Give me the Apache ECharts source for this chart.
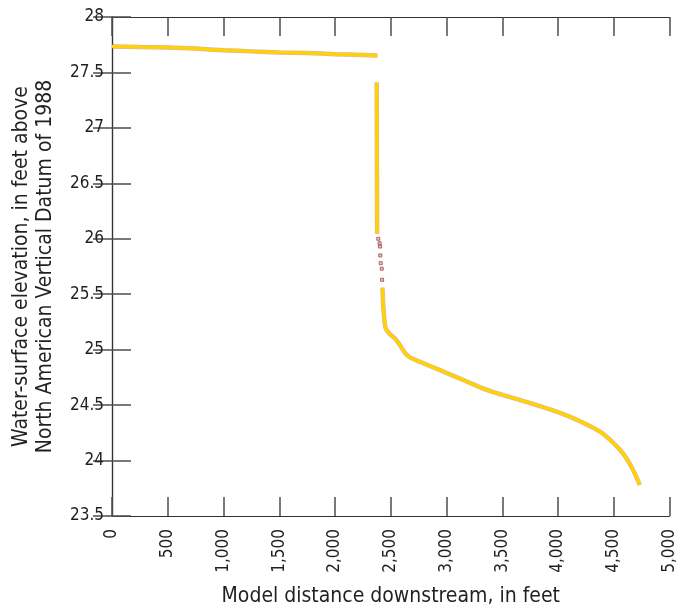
<!DOCTYPE html>
<html>
<head>
<meta charset="utf-8">
<script src="https://cdn.jsdelivr.net/npm/echarts@6/dist/echarts.min.js"></script>
<style>
  html, body { margin: 0; padding: 0; background: #fff; }
  #chart { width: 683px; height: 612px; }
</style>
</head>
<body>
<div id="chart"></div>
<script>
// water-surface profile (feet)
const upperX = [0, 250, 500, 750, 1000, 1250, 1500, 1750, 2000, 2250, 2380]
const upperY = [27.735, 27.73, 27.725, 27.715, 27.70, 27.69, 27.68, 27.675, 27.665, 27.657, 27.652]

const dropX = [2374, 2376, 2378]
const dropY = [27.41, 26.70, 26.045]

// sparse points just below the drop
const sparseX = [2388, 2400, 2404, 2406, 2410, 2419, 2422]
const sparseY = [26.00, 25.96, 25.93, 25.85, 25.78, 25.73, 25.63]

const lowerX = [2425, 2428, 2433, 2442, 2455, 2493, 2538, 2583, 2628, 2673, 2762, 2942, 3151, 3361, 3600, 3809, 4018, 4197, 4377, 4496, 4586, 4661, 4721, 4733]
const lowerY = [25.56, 25.51, 25.39, 25.28, 25.19, 25.14, 25.10, 25.04, 24.97, 24.93, 24.89, 24.815, 24.726, 24.637, 24.563, 24.50, 24.43, 24.355, 24.26, 24.16, 24.06, 23.94, 23.81, 23.78]

const xTickLabels = ['0', '500', '1,000', '1,500', '2,000', '2,500', '3,000', '3,500', '4,000', '4,500', '5,000']
const yTickLabels = ['23.5', '24', '24.5', '25', '25.5', '26', '26.5', '27', '27.5', '28']

const FONT = '"Liberation Sans Narrow", "DejaVu Sans Condensed", "Roboto", sans-serif'
const TEXT = '#231f20'
const YELLOW = '#ffd200'
const PURPLE = '#8e3a9d'

const pairs = (xs, ys) => xs.map((x, i) => [x, ys[i]])

const lineSeries = (xs, ys, smooth) => ([
    {
        type: 'line',
        data: pairs(xs, ys),
        showSymbol: false,
        silent: true,
        smooth: smooth,
        lineStyle: { color: PURPLE, width: 4.5, opacity: 0.4 },
        z: 2,
    },
    {
        type: 'line',
        data: pairs(xs, ys),
        showSymbol: false,
        silent: true,
        smooth: smooth,
        lineStyle: { color: YELLOW, width: 3.5 },
        z: 3,
    },
])

const tickStyle = { inside: true, length: 19, lineStyle: { color: '#4d4d4d', width: 1.5 } }
const axisLineStyle = { show: true, lineStyle: { color: '#333', width: 1.2 } }

const chart = echarts.init(document.getElementById('chart'), null, { renderer: 'canvas' })

chart.setOption({
    animation: false,
    backgroundColor: '#fff',
    grid: { left: 112, right: 13.5, top: 17, bottom: 89 },
    xAxis: [
        {
            type: 'value',
            min: 0,
            max: 5000,
            interval: 500,
            position: 'bottom',
            axisLine: axisLineStyle,
            axisTick: tickStyle,
            splitLine: { show: false },
            axisLabel: {
                rotate: 90,
                margin: 13,
                fontFamily: FONT,
                fontSize: 17,
                color: TEXT,
                formatter: (v) => xTickLabels[Math.round(v / 500)],
            },
            name: 'Model distance downstream, in feet',
            nameLocation: 'middle',
            nameGap: 70,
            nameTextStyle: { fontFamily: FONT, fontSize: 21, color: TEXT },
        },
        {
            type: 'value',
            min: 0,
            max: 5000,
            interval: 500,
            position: 'top',
            axisLine: axisLineStyle,
            axisTick: tickStyle,
            axisLabel: { show: false },
            splitLine: { show: false },
        },
    ],
    yAxis: [
        {
            type: 'value',
            min: 23.5,
            max: 28,
            interval: 0.5,
            position: 'left',
            axisLine: axisLineStyle,
            axisTick: tickStyle,
            splitLine: { show: false },
            axisLabel: {
                margin: 8,
                fontFamily: FONT,
                fontSize: 17,
                color: TEXT,
                formatter: (v) => yTickLabels[Math.round((v - 23.5) / 0.5)],
            },
            name: 'Water-surface elevation, in feet above\nNorth American Vertical Datum of 1988',
            nameLocation: 'middle',
            nameGap: 54,
            nameRotate: 90,
            nameTextStyle: { fontFamily: FONT, fontSize: 21, color: TEXT, lineHeight: 24 },
        },
        {
            type: 'value',
            min: 23.5,
            max: 28,
            interval: 0.5,
            position: 'right',
            axisLine: axisLineStyle,
            axisTick: tickStyle,
            axisLabel: { show: false },
            splitLine: { show: false },
        },
    ],
    series: [
        ...lineSeries(upperX, upperY, 0.3),
        ...lineSeries(dropX, dropY, false),
        ...lineSeries(lowerX, lowerY, 0.3),
        {
            type: 'scatter',
            data: pairs(sparseX, sparseY),
            symbol: 'rect',
            symbolSize: [3, 3],
            silent: true,
            itemStyle: { color: YELLOW, borderColor: PURPLE, borderWidth: 1 },
            z: 4,
        },
    ],
})
</script>
</body>
</html>
